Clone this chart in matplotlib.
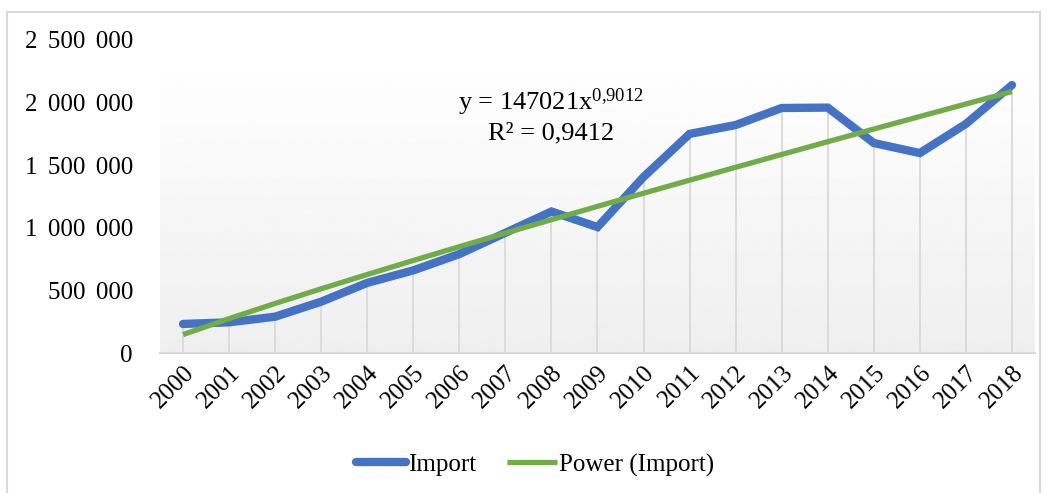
import matplotlib.pyplot as plt
import numpy as np
from matplotlib.patches import Rectangle

plt.rcParams['font.family'] = ['Liberation Serif', 'DejaVu Serif']
plt.rcParams['mathtext.fontset'] = 'custom'
plt.rcParams['mathtext.rm'] = 'Liberation Serif'
plt.rcParams['mathtext.it'] = 'Liberation Serif'

years = [str(y) for y in range(2000, 2019)]
imports = [232000, 245000, 290000, 410000, 560000, 660000, 790000, 960000,
           1130000, 1006000, 1406000, 1750000, 1821000, 1957000, 1960000,
           1677000, 1597000, 1830000, 2140000]
# power trendline as printed on the chart
coef_a = 147021
coef_b = 0.9012
yticks = [0, 500000, 1000000, 1500000, 2000000, 2500000]
sep = ' \u2006'
ytick_labels = ['0', '500' + sep + '000', '1' + sep + '000' + sep + '000',
                '1' + sep + '500' + sep + '000', '2' + sep + '000' + sep + '000',
                '2' + sep + '500' + sep + '000']

blue = '#4472C4'
green = '#70AD47'

fig = plt.figure(figsize=(10.47, 4.93), dpi=100)
ax = fig.add_axes([160/1047, 1 - 353/493, (1035-160)/1047, (353-40)/493])

x = np.arange(len(years))
trend = coef_a * (x + 1) ** coef_b

# gradient fill of the plot area (starts a bit below the top tick)
gtop = (353 - 75) / (353 - 40)
grad = np.linspace(0.995, 0.935, 256).reshape(-1, 1)
ax.imshow(grad, cmap='gray', vmin=0, vmax=1, aspect='auto',
          extent=[0, 1, 0, gtop], transform=ax.transAxes, zorder=0)

# drop lines from each point to the axis
ax.vlines(x, 0, imports, color='#d9d9d9', lw=1.3, zorder=1)

ax.plot(x, imports, color=blue, lw=6, solid_capstyle='round',
        solid_joinstyle='miter', label='Import', zorder=3)
ax.plot(x, trend, color=green, lw=3.8, solid_capstyle='butt',
        label='Power (Import)', zorder=4)

ax.set_xlim(-0.5, 18.5)
ax.set_ylim(0, 2500000)
ax.set_yticks(yticks)
ax.set_yticklabels(ytick_labels, fontsize=18)
ax.set_xticks(x)
ax.set_xticklabels(years, fontsize=18, rotation=45, ha='right',
                   va='top', rotation_mode='anchor')
ax.tick_params(axis='both', length=0)
ax.tick_params(axis='y', pad=19.5)
ax.tick_params(axis='x', pad=6)

for s in ['top', 'right', 'left']:
    ax.spines[s].set_visible(False)
ax.spines['bottom'].set_color('#d9d9d9')
ax.spines['bottom'].set_linewidth(1.5)

fig.text(551/1047, 1 - 102/493, r'y = 147021x$^{0{,}9012}$', fontsize=19,
         ha='center', va='center')
fig.text(551/1047, 1 - 133/493, 'R² = 0,9412', fontsize=19,
         ha='center', va='center')

leg = fig.legend(loc='center', bbox_to_anchor=(535/1047, 1 - 465/493),
                 ncol=2, frameon=False, fontsize=18, handlelength=2.0,
                 handletextpad=0.1, columnspacing=1.2)

fig.patches.append(Rectangle((7/1047, -0.02), (1040-7)/1047, 1.02 - 12/493,
                             transform=fig.transFigure, fill=False,
                             edgecolor='#d9d9d9', lw=1.5))

fig.savefig('out.png', dpi=100)
